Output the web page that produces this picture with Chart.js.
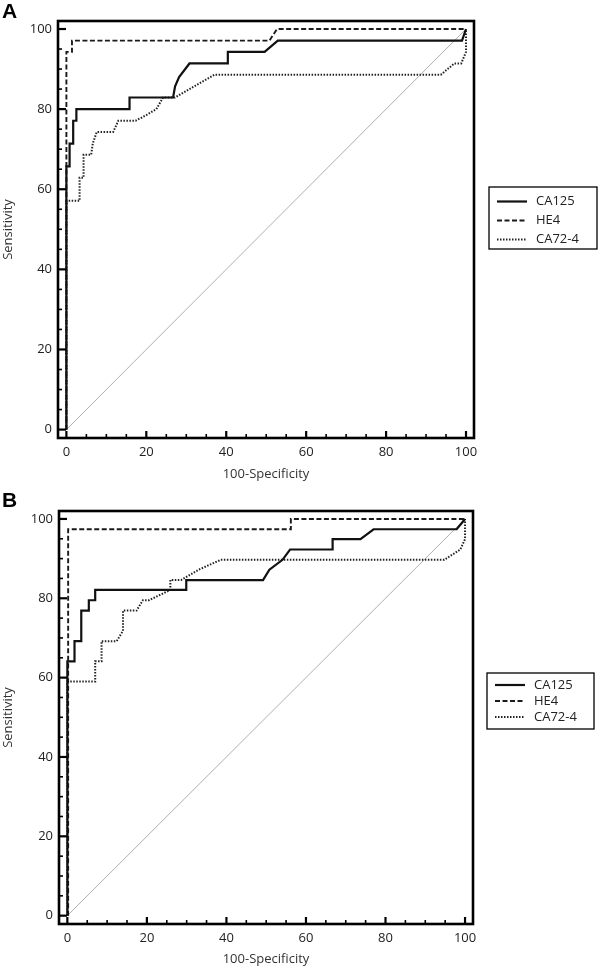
<!DOCTYPE html>
<html>
<head>
<meta charset="utf-8">
<script src="https://cdn.jsdelivr.net/npm/chart.js@4.4.1/dist/chart.umd.min.js"></script>
<style>
  body { margin: 0; background: #fff; }
  .panel { position: absolute; left: 0; width: 600px; height: 485px; }
</style>
</head>
<body>
<div class="panel" style="top:0"><canvas id="chartA" width="600" height="485"></canvas></div>
<div class="panel" style="top:485px"><canvas id="chartB" width="600" height="485"></canvas></div>
<script>
// Series names and axis ticks
const seriesNames = ['CA125', 'HE4', 'CA72-4'];
const tickValues = [0, 20, 40, 60, 80, 100];

// Panel A: [100-Specificity, Sensitivity]
const ca125A = [[0,0],[0,65.7],[0.8,65.7],[0.8,71.4],[1.7,71.4],[1.7,77.1],[2.5,77.1],[2.5,80.0],[15.8,80.0],[15.8,82.9],[26.7,82.9],[27.2,85.7],[28.2,88.0],[30.8,91.4],[40.4,91.4],[40.4,94.3],[49.6,94.3],[52.9,97.1],[99.0,97.1],[100,100]];
const he4A = [[0,0],[0,94.3],[1.4,94.3],[1.4,97.1],[50.8,97.1],[52.7,100],[100,100]];
const ca724A = [[0,0],[0,57.1],[3.3,57.1],[3.3,62.9],[4.3,62.9],[4.3,68.6],[6.2,68.6],[6.6,71.4],[7.6,74.3],[11.7,74.3],[13.0,77.1],[17.3,77.1],[20.0,78.5],[22.5,80.0],[24.2,82.9],[27.2,82.9],[32.0,85.7],[37.1,88.6],[93.7,88.6],[97.1,91.4],[98.8,91.4],[100,94.3],[100,100]];

// Panel B
const ca125B = [[0,0],[0,64.1],[1.8,64.1],[1.8,69.2],[3.5,69.2],[3.5,76.9],[5.4,76.9],[5.4,79.5],[7.0,79.5],[7.0,82.1],[29.9,82.1],[29.9,84.6],[49.2,84.6],[50.8,87.2],[54.1,89.7],[56.0,92.3],[66.7,92.3],[66.7,94.9],[73.7,94.9],[77.0,97.4],[97.9,97.4],[100,100]];
const he4B = [[0.2,0],[0.2,97.4],[56.2,97.4],[56.2,100],[100,100]];
const ca724B = [[0,0],[0,59.0],[7.0,59.0],[7.0,64.1],[8.6,64.1],[8.6,69.2],[12.4,69.2],[14.0,71.8],[14.0,76.9],[17.4,76.9],[19.0,79.5],[20.5,79.5],[25.9,82.1],[25.9,84.6],[28.6,84.6],[33.0,87.2],[38.6,89.7],[94.8,89.7],[98.8,92.3],[100,94.9],[100,100]];

// reference diagonal
const diagonal = [[0,0],[100,100]];

const toXY = arr => arr.map(p => ({ x: p[0], y: p[1] }));

// frame, inward ticks, legend box and panel letter
const rocPlugin = {
  id: 'roc',
  afterDraw(chart, args, opts) {
    const ctx = chart.ctx;
    const a = chart.chartArea;
    const xs = chart.scales.x, ys = chart.scales.y;
    ctx.save();
    ctx.strokeStyle = '#000';
    // ticks every 5
    for (let v = 0; v <= 100; v += 5) {
      const major = v % 20 === 0;
      ctx.lineWidth = major ? 2.2 : 1.6;
      const px = xs.getPixelForValue(v);
      ctx.beginPath();
      ctx.moveTo(px, a.bottom);
      ctx.lineTo(px, a.bottom - (major ? 7 : 4));
      ctx.stroke();
      const py = ys.getPixelForValue(v);
      ctx.beginPath();
      ctx.moveTo(a.left, py);
      ctx.lineTo(a.left + (major ? 8 : 4), py);
      ctx.stroke();
    }
    // frame
    ctx.lineWidth = 2.6;
    ctx.strokeRect(a.left, a.top, a.right - a.left, a.bottom - a.top);

    // legend
    const L = opts.legend;
    ctx.lineWidth = 1.3;
    ctx.strokeRect(L.x, L.y, L.w, L.h);
    ctx.font = '13px "Open Sans"';
    ctx.fillStyle = '#222';
    ctx.textBaseline = 'middle';
    ctx.textAlign = 'left';
    chart.data.datasets.forEach((ds, i) => {
      if (i >= seriesNames.length) return;
      const cy = L.y + L.first + i * L.step;
      ctx.save();
      ctx.strokeStyle = ds.borderColor;
      ctx.lineWidth = ds.borderWidth;
      ctx.setLineDash(ds.borderDash || []);
      ctx.beginPath();
      ctx.moveTo(L.x + 8, cy);
      ctx.lineTo(L.x + 38, cy);
      ctx.stroke();
      ctx.restore();
      ctx.fillText(ds.label, L.x + 47, cy);
    });

    // panel letter
    ctx.font = 'bold 21px "Liberation Sans", Arial, sans-serif';
    ctx.fillStyle = '#000';
    ctx.textBaseline = 'alphabetic';
    ctx.fillText(opts.letter, opts.letterX, opts.letterY);
    ctx.restore();
  }
};

function makeChart(id, ca125, he4, ca724, area, letterY, legend) {
  const ctx = document.getElementById(id).getContext('2d');
  const data = {
    datasets: [
      { label: seriesNames[0], data: toXY(ca125), borderColor: '#111', borderWidth: 2.2, borderDash: [] },
      { label: seriesNames[1], data: toXY(he4), borderColor: '#1a1a1a', borderWidth: 1.9, borderDash: [5, 2.5] },
      { label: seriesNames[2], data: toXY(ca724), borderColor: '#222', borderWidth: 2, borderDash: [1.5, 1.5] },
      { label: 'ref', data: toXY(diagonal), borderColor: '#9a9a9a', borderWidth: 0.8 }
    ]
  };
  const config = {
    type: 'line',
    data: data,
    options: {
      responsive: false,
      animation: false,
      layout: { padding: { top: area.top, right: 600 - area.right, left: 0, bottom: 0 } },
      elements: { point: { radius: 0 }, line: { tension: 0, fill: false } },
      plugins: {
        legend: { display: false },
        tooltip: { enabled: false },
        roc: { letter: id === 'chartA' ? 'A' : 'B', letterX: 2, letterY: letterY, legend: legend }
      },
      scales: {
        x: {
          type: 'linear',
          min: area.min, max: area.max,
          grid: { display: false, drawTicks: false },
          border: { display: false },
          afterBuildTicks: s => { s.ticks = tickValues.map(v => ({ value: v })); },
          afterFit: s => { s.height = 485 - area.bottom; },
          ticks: { color: '#222', font: { size: 13, family: 'Open Sans' }, padding: 6, maxRotation: 0 },
          title: { display: true, text: '100-Specificity', color: '#333', font: { size: 13, family: 'Open Sans' }, padding: { top: 0, bottom: 3 } }
        },
        y: {
          type: 'linear',
          min: area.min, max: area.max,
          grid: { display: false, drawTicks: false },
          border: { display: false },
          afterBuildTicks: s => { s.ticks = tickValues.map(v => ({ value: v })); },
          afterFit: s => { s.width = area.left; },
          ticks: { color: '#222', font: { size: 13, family: 'Open Sans' }, padding: 6 },
          title: { display: true, text: 'Sensitivity', color: '#333', font: { size: 13, family: 'Open Sans' }, padding: 0 }
        }
      }
    },
    plugins: [rocPlugin]
  };
  return new Chart(ctx, config);
}

makeChart('chartA', ca125A, he4A, ca724A,
  { left: 58, top: 21, right: 474, bottom: 438, min: -2.1, max: 102 }, 18,
  { x: 489, y: 187, w: 108, h: 62, first: 14.5, step: 19 });
makeChart('chartB', ca125B, he4B, ca724B,
  { left: 59, top: 26, right: 473, bottom: 439, min: -2.1, max: 102 }, 22,
  { x: 487, y: 188, w: 107, h: 56, first: 12, step: 16 });
</script>
</body>
</html>
